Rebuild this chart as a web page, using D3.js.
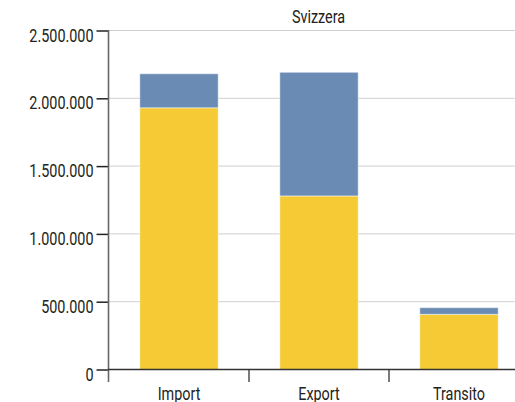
<!DOCTYPE html>
<html><head><meta charset="utf-8">
<script src="https://cdn.jsdelivr.net/npm/d3@7"></script>
<style>body{margin:0;background:#fff}svg{display:block}text{font-family:Roboto,"Liberation Sans",sans-serif}</style>
</head><body><svg id="c" width="515" height="402"></svg>
<script>
const title = "Svizzera";
const categories = ["Import", "Export", "Transito"];
const yellowValues = [1930000, 1280000, 407000];
const blueValues = [251000, 912000, 49000];
const yTicks = [0, 500000, 1000000, 1500000, 2000000, 2500000];

const SX = 0.8, FS = 18;
const svg = d3.select("#c");
const x = d3.scaleBand().domain(categories).range([109, 529]).paddingInner(0.44).paddingOuter(0.22);
const y = d3.scaleLinear().domain([0, 2500000]).range([369.5, 30.5]);
const fmt = v => d3.format(",")(v).replace(/,/g, ".");

// gridlines
svg.append("g").selectAll("line").data(yTicks.filter(d => d > 0)).join("line")
  .attr("x1", 109).attr("x2", 515).attr("y1", d => y(d)).attr("y2", d => y(d))
  .attr("stroke", "#d0d0d0").attr("stroke-width", 1);

// bars
const stackData = categories.map((c, i) => ({cat: c, yellow: yellowValues[i], blue: blueValues[i]}));
const series = d3.stack().keys(["yellow", "blue"])(stackData);
const colors = {yellow: "#F5CA35", blue: "#6A8BB4"};
svg.append("g").selectAll("g").data(series).join("g")
  .attr("fill", d => colors[d.key])
  .selectAll("rect").data(d => d).join("rect")
  .attr("x", d => x(d.data.cat)).attr("width", x.bandwidth())
  .attr("y", d => y(d[1])).attr("height", d => y(d[0]) - y(d[1]))
  .attr("stroke", "rgba(255,255,255,0.5)").attr("stroke-width", 1);

// y axis
const ya = svg.append("g").attr("transform", "translate(108.5,0)")
  .call(d3.axisLeft(y).tickValues(yTicks).tickFormat(fmt).tickSize(12).tickPadding(3));
ya.select(".domain").remove();
ya.selectAll(".tick line").attr("stroke", "#222").attr("stroke-width", 1.5);
ya.selectAll("text").attr("font-size", FS).attr("fill", "#222")
  .attr("x", -15 / SX).attr("dy", null).attr("y", 10.5)
  .attr("transform", `scale(${SX},1)`);
svg.append("line").attr("x1", 108.5).attr("x2", 108.5).attr("y1", 30).attr("y2", 382)
  .attr("stroke", "#666").attr("stroke-width", 1.6);

// x axis
svg.append("line").attr("x1", 108).attr("x2", 515).attr("y1", 369.5).attr("y2", 369.5)
  .attr("stroke", "#333").attr("stroke-width", 1.5);
const boundaries = categories.slice(1).map(c => x(c) - x.step() * x.paddingInner() / 2);
svg.append("g").selectAll("line").data(boundaries).join("line")
  .attr("x1", d => d).attr("x2", d => d).attr("y1", 369.5).attr("y2", 382)
  .attr("stroke", "#333").attr("stroke-width", 1.3);
svg.append("g").selectAll("text").data(categories).join("text")
  .attr("x", d => (x(d) + x.bandwidth() / 2) / SX).attr("y", 400.5)
  .attr("transform", `scale(${SX},1)`)
  .attr("text-anchor", "middle").attr("font-size", FS).attr("fill", "#222").text(d => d);

// title
svg.append("text").attr("x", 318.5 / SX).attr("y", 23.3).attr("transform", `scale(${SX},1)`)
  .attr("text-anchor", "middle").attr("font-size", FS).attr("fill", "#222").text(title);
</script></body></html>
